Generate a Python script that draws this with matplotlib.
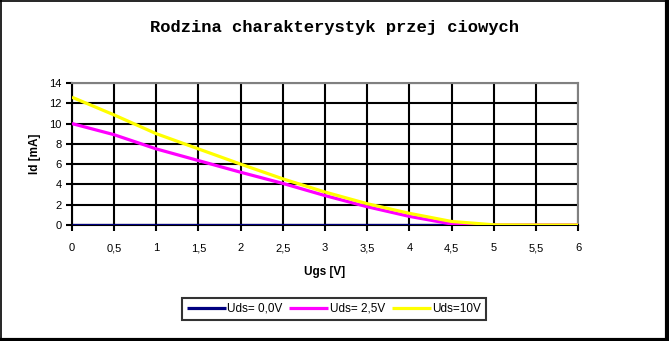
import matplotlib.pyplot as plt
from matplotlib.lines import Line2D
from matplotlib.ticker import FuncFormatter

# Ugs [V] sampled every 0.5 V
ugs = [0, 0.5, 1, 1.5, 2, 2.5, 3, 3.5, 4, 4.5, 5, 5.5, 6]
# Id [mA] for each Uds
id_uds_0 = [0, 0, 0, 0, 0, 0, 0, 0, 0, 0, 0, 0, 0]
id_uds_25 = [10, 8.9, 7.5, 6.35, 5.2, 4.1, 2.9, 1.8, 0.85, 0.1, 0, 0, 0]
id_uds_10 = [12.6, 10.85, 9.0, 7.5, 6.0, 4.55, 3.25, 2.1, 1.15, 0.35, 0.02, 0, 0]
labels = ["Uds= 0,0V", "Uds= 2,5V", "Uds=10V"]
colors = ["#000080", "#ff00ff", "#ffff00"]

plt.rcParams["font.family"] = ["Liberation Sans", "DejaVu Sans"]


def main():
    fig = plt.figure(figsize=(6.69, 3.41), dpi=100)
    ax = fig.add_axes([0.1076, 0.3402, 0.7564, 0.4164])

    for y, lab, c in zip([id_uds_0, id_uds_25, id_uds_10], labels, colors):
        ax.plot(ugs, y, color=c, lw=2.3, label=lab, solid_capstyle="butt", zorder=3)

    ax.set_xlim(0, 6)
    ax.set_ylim(0, 14)
    ax.set_xticks([i * 0.5 for i in range(13)])
    ax.set_yticks(range(0, 15, 2))
    ax.xaxis.set_major_formatter(FuncFormatter(lambda v, p: ("%g" % v).replace(".", ",")))
    ax.grid(True, color="black", lw=1.5)
    ax.set_axisbelow(True)
    ax.tick_params(length=4, width=1.5, labelsize=8)
    ax.tick_params(axis="x", pad=9)
    ax.tick_params(axis="y", pad=3.5)

    for s in ["left", "bottom"]:
        ax.spines[s].set_color("black")
        ax.spines[s].set_linewidth(1.5)
    for s in ["top", "right"]:
        ax.spines[s].set_color("#808080")
        ax.spines[s].set_linewidth(1.5)

    ax.set_xlabel("Ugs [V]", fontsize=8.5, fontweight="bold", labelpad=9.5)
    ax.set_ylabel("Id [mA]", fontsize=8.5, fontweight="bold", labelpad=6)

    fig.text(0.5, 0.92, "Rodzina charakterystyk przej ciowych", ha="center", va="center",
             fontsize=12.3, fontweight="bold", family="Liberation Mono")

    leg = fig.legend(loc="center", bbox_to_anchor=(0.499, 0.094), ncol=3, fontsize=8.5,
                     frameon=True, fancybox=False, handlelength=3.3, handletextpad=0.1,
                     columnspacing=0.6, borderpad=0.4)
    leg.get_frame().set_edgecolor("black")
    leg.get_frame().set_linewidth(1.5)

    # outer chart border, heavier on the right and bottom
    fig.add_artist(Line2D([0.001, 0.001], [0, 0.999], color="black", lw=1.2, transform=fig.transFigure))
    fig.add_artist(Line2D([0, 1], [0.998, 0.998], color="black", lw=1.2, transform=fig.transFigure))
    fig.add_artist(Line2D([0.997, 0.997], [0, 1], color="black", lw=3, transform=fig.transFigure))
    fig.add_artist(Line2D([0, 1], [0.004, 0.004], color="black", lw=3, transform=fig.transFigure))

    fig.savefig("out.png", dpi=100)


if __name__ == "__main__":
    main()
